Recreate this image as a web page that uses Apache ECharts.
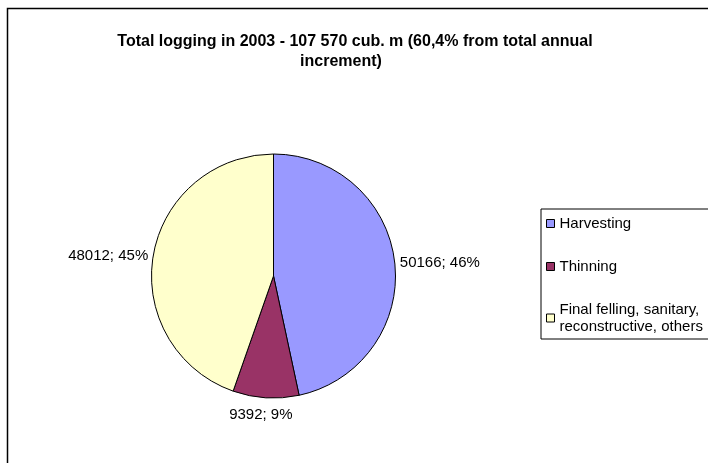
<!DOCTYPE html>
<html>
<head>
<meta charset="utf-8">
<script src="https://cdn.jsdelivr.net/npm/echarts@6/dist/echarts.min.js"></script>
<style>
html,body{margin:0;padding:0;background:#fff;}
#c{width:708px;height:463px;}
</style>
</head>
<body>
<div id="c"></div>
<script>
const titleLine1 = 'Total logging in 2003 - 107 570 cub. m (60,4% from total annual';
const titleLine2 = 'increment)';
const categories = ['Harvesting', 'Thinning', 'Final felling, sanitary, reconstructive, others'];
const legendLabels = ['Harvesting', 'Thinning', 'Final felling, sanitary,\nreconstructive, others'];
const values = [50166, 9392, 48012];
const percents = [46, 9, 45];
const colors = ['#9999FF', '#993366', '#FFFFCC'];

const chart = echarts.init(document.getElementById('c'));
const legendMap = {};
categories.forEach((c, i) => legendMap[c] = legendLabels[i]);

chart.setOption({
  backgroundColor: '#fff',
  animation: false,
  title: [
    { text: titleLine1, left: 350, top: 29, textAlign: 'center',
      textStyle: { fontFamily: 'Liberation Sans, Arial', fontWeight: 'bold', fontSize: 16, color: '#000' } },
    { text: titleLine2, left: 336, top: 49, textAlign: 'center',
      textStyle: { fontFamily: 'Liberation Sans, Arial', fontWeight: 'bold', fontSize: 16, color: '#000' } }
  ],
  graphic: [
    { type: 'rect', shape: { x: 7.5, y: 8.5, width: 900, height: 700 },
      style: { fill: 'none', stroke: '#000', lineWidth: 1.5 }, z: -1 }
  ],
  legend: {
    orient: 'vertical',
    left: 541, top: 209,
    backgroundColor: '#fff',
    borderColor: '#000', borderWidth: 1,
    padding: [6, 6, 4, 5],
    itemGap: 26,
    itemWidth: 8, itemHeight: 8,
    icon: 'rect',
    itemStyle: { borderColor: '#000', borderWidth: 1 },
    textStyle: { fontFamily: 'Liberation Sans, Arial', fontSize: 15, color: '#000', lineHeight: 17 },
    formatter: name => legendMap[name],
    data: categories
  },
  series: [{
    type: 'pie',
    center: [273.5, 276],
    radius: 122,
    startAngle: 90,
    clockwise: true,
    avoidLabelOverlap: false,
    itemStyle: { borderColor: '#000', borderWidth: 1 },
    label: {
      show: true, position: 'outside',
      fontFamily: 'Liberation Sans, Arial', fontSize: 15, color: '#000',
      formatter: p => values[p.dataIndex] + '; ' + percents[p.dataIndex] + '%'
    },
    labelLine: { show: false, length: 0, length2: 0 },
    labelLayout: p => p.dataIndex === 1 ? { dy: 17, align: 'center' } : {},
    emphasis: { disabled: true },
    data: categories.map((c, i) => ({ name: c, value: values[i], itemStyle: { color: colors[i] } }))
  }]
});
</script>
</body>
</html>
